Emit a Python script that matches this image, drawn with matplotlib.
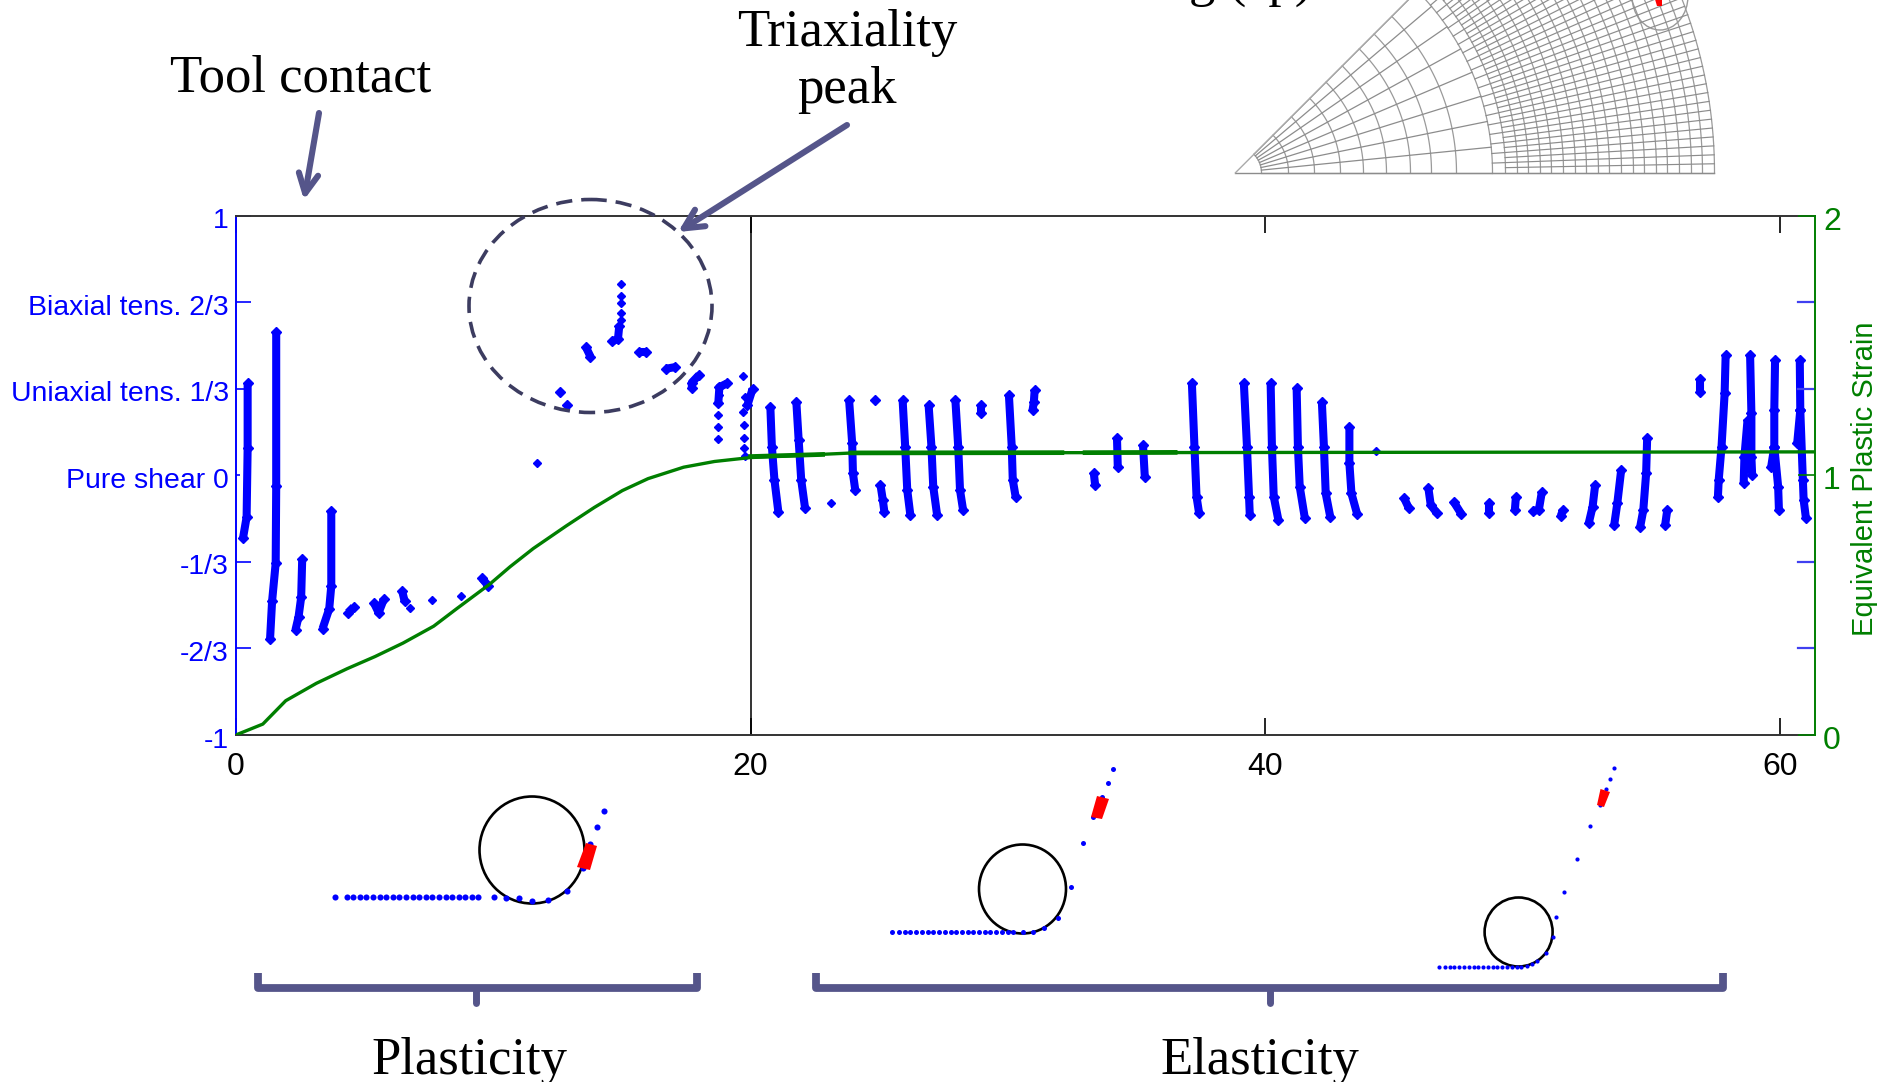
import numpy as np
import matplotlib
matplotlib.use('Agg')
import matplotlib.pyplot as plt
from matplotlib.patches import Ellipse, Polygon, FancyArrowPatch
from matplotlib.transforms import ScaledTranslation

W, H = 1877, 1082
SERIF = 'Liberation Serif'
SANS = 'Liberation Sans'
BLUE = '#0000ff'
GREEN = '#007f00'
SLATE = '#55558a'

# triaxiality streaks, one list per group of nodes: (time, triaxiality)
streaks = [
    [(0.46, 0.354), (0.46, 0.104), (0.42, -0.161), (0.28, -0.242)],
    [(1.57, 0.553), (1.57, -0.043), (1.55, -0.338), (1.41, -0.485), (1.33, -0.632)],
    [(2.58, -0.323), (2.54, -0.47), (2.44, -0.544), (2.32, -0.595)],
    [(3.71, -0.139), (3.71, -0.426), (3.63, -0.514), (3.37, -0.591)],
    [(4.58, -0.507), (4.36, -0.529)],
    [(5.37, -0.492), (5.55, -0.529), (5.75, -0.478)],
    [(6.46, -0.444), (6.56, -0.485)],
    [(9.57, -0.397), (9.81, -0.426)],
    [(12.59, 0.322)],
    [(12.88, 0.269)],
    [(13.6, 0.494), (13.78, 0.457)],
    [(14.9, 0.575), (14.85, 0.525), (14.63, 0.516)],
    [(15.66, 0.476), (15.92, 0.476)],
    [(16.71, 0.41), (17.05, 0.416)],
    [(18.0, 0.386), (17.72, 0.357), (17.72, 0.336)],
    [(19.09, 0.354), (18.79, 0.339), (18.75, 0.28)],
    [(20.08, 0.332), (19.88, 0.27)],
    [(20.77, 0.264), (20.83, 0.11), (20.93, -0.018), (21.08, -0.14)],
    [(21.78, 0.283), (21.87, 0.136), (21.97, -0.018), (22.12, -0.127)],
    [(23.83, 0.29), (23.95, 0.123), (23.98, 0.007), (24.07, -0.057)],
    [(24.85, 0.29)],
    [(25.05, -0.037), (25.14, -0.095), (25.2, -0.14)],
    [(25.91, 0.29), (26.01, 0.11), (26.09, -0.057), (26.21, -0.153)],
    [(26.92, 0.27), (27.03, 0.11), (27.1, -0.044), (27.25, -0.153)],
    [(27.96, 0.29), (28.07, 0.11), (28.14, -0.057), (28.26, -0.134)],
    [(28.96, 0.27), (28.96, 0.238)],
    [(30.04, 0.309), (30.15, 0.11), (30.19, -0.018), (30.3, -0.082)],
    [(31.04, 0.328), (31.01, 0.283), (30.96, 0.251)],
    [(33.34, 0.007), (33.39, -0.037)],
    [(34.24, 0.142), (34.27, 0.033)],
    [(35.25, 0.117), (35.32, -0.005)],
    [(37.15, 0.354), (37.25, 0.11), (37.33, -0.082), (37.43, -0.146)],
    [(39.17, 0.354), (39.29, 0.11), (39.37, -0.082), (39.4, -0.153)],
    [(40.21, 0.354), (40.26, 0.11), (40.33, -0.082), (40.51, -0.172)],
    [(41.22, 0.335), (41.27, 0.11), (41.34, -0.044), (41.54, -0.166)],
    [(42.2, 0.283), (42.28, 0.11), (42.35, -0.07), (42.53, -0.162)],
    [(43.27, 0.187), (43.27, 0.046), (43.35, -0.07), (43.57, -0.149)],
    [(45.4, -0.089), (45.58, -0.127)],
    [(46.34, -0.05), (46.43, -0.114), (46.66, -0.144)],
    [(47.32, -0.102), (47.62, -0.149)],
    [(48.7, -0.108), (48.7, -0.146)],
    [(49.74, -0.082), (49.7, -0.134)],
    [(50.75, -0.063), (50.63, -0.134), (50.41, -0.136)],
    [(51.57, -0.134), (51.48, -0.157)],
    [(52.82, -0.037), (52.72, -0.121), (52.57, -0.185)],
    [(53.83, 0.02), (53.68, -0.108), (53.56, -0.191)],
    [(54.84, 0.142), (54.8, 0.007), (54.69, -0.134), (54.57, -0.198)],
    [(55.62, -0.134), (55.54, -0.191)],
    [(56.88, 0.369), (56.88, 0.322)],
    [(57.89, 0.463), (57.85, 0.315), (57.73, 0.11), (57.62, -0.018), (57.59, -0.082)],
    [(58.84, 0.463), (58.89, 0.238), (58.89, 0.072), (58.92, 0.0)],
    [(58.74, 0.213), (58.62, 0.072), (58.59, -0.031)],
    [(59.81, 0.444), (59.78, 0.251), (59.78, 0.11), (59.93, -0.044), (59.96, -0.134)],
    [(59.78, 0.11), (59.66, 0.033)],
    [(60.77, 0.444), (60.79, 0.251), (60.89, -0.018), (60.92, -0.095), (61.01, -0.166)],
    [(60.79, 0.251), (60.67, 0.123)],
]
# nodes that read as separate diamonds
lone_x = [6.76, 7.61, 8.76, 11.69, 14.95, 14.95, 14.95, 14.95, 14.95, 18.73, 18.73, 18.73, 18.77,
          19.72, 19.74, 19.74, 19.74, 19.78, 19.72, 19.8, 23.13, 44.29]
lone_y = [-0.511, -0.48, -0.464, 0.048, 0.737, 0.69, 0.663, 0.626, 0.597, 0.233, 0.186, 0.139, 0.31,
          0.383, 0.192, 0.145, 0.105, 0.074, 0.245, 0.3, -0.108, 0.095]

strain_t = [0, 1.05, 1.94, 3.13, 4.32, 5.41, 6.5, 7.69, 8.58, 9.87, 10.66, 11.56, 12.84, 13.93, 15.02, 16.02,
            17.4, 18.6, 19.98, 24, 61.35]
strain_v = [0, 0.042, 0.132, 0.199, 0.255, 0.302, 0.354, 0.419, 0.486, 0.581, 0.648, 0.718, 0.805, 0.876, 0.941, 0.987,
            1.031, 1.053, 1.068, 1.086, 1.09]
# flat stretches where the plastic strain line looks heavier
heavy_t = [[20, 22.8], [23.9, 32.1], [33, 36.5]]
heavy_v = [[1.072, 1.08], [1.086, 1.087], [1.087, 1.088]]

left_ticks = [-1, -2/3, -1/3, 0, 1/3, 2/3, 1]
left_labels = ['-1', '-2/3', '-1/3', 'Pure shear 0', 'Uniaxial tens. 1/3', 'Biaxial tens. 2/3', '1']
x_ticks = [0, 20, 40, 60]
right_minor = [-2/3, -1/3, 1/3, 2/3]

# sketches under the plot, figure pixels
circles = [(532, 850, 105, 107), (1022.5, 889, 87, 89), (1518.6, 932, 68, 69)]
dots1_x = [335.4, 347, 353, 360, 366, 373, 380, 386, 393, 399, 406, 413, 419, 426, 432, 439, 446, 452, 459, 465, 472, 478,
           494, 506, 519, 532, 548, 567, 583, 590, 597, 604]
dots1_y = [896.7] * 22 + [897, 898, 898, 901, 900, 891, 868, 844, 827, 811]
dots2_x = [892, 899, 905, 910, 916, 922, 928, 933, 939, 945, 951, 956, 962, 968, 973, 979, 985, 990, 996, 1002, 1008, 1013,
           1023, 1033, 1044, 1058, 1071, 1083, 1093, 1102, 1108, 1113]
dots2_y = [931.7] * 23 + [932, 928, 918, 887, 843, 817, 797, 783, 769]
dots3_x = [1439, 1445, 1450, 1454, 1459, 1464, 1469, 1474, 1478, 1483, 1488, 1493, 1497, 1502, 1507, 1512, 1517, 1521,
           1527, 1532, 1537, 1546, 1553, 1556, 1564, 1577, 1590, 1600, 1606, 1610, 1614]
dots3_y = [966.7] * 18 + [966, 964, 961, 953, 937, 917, 892, 859, 826, 805, 789, 779, 768]
reds = [
    [(586, 843), (597, 846), (590, 870), (577, 867)],
    [(1097, 796), (1109, 799), (1102, 819), (1091, 817)],
    [(1600.5, 789), (1610, 792), (1604, 807), (1597, 805)],
    [(1654, -4), (1662, -4), (1662, 6), (1657, 6)],
]
brackets = [(258, 697, 476), (816.5, 1723.5, 1270.4)]

# mesh in the top corner, pixel radii from the apex
mesh_inner_r = [26, 53, 79, 105, 128, 151, 175, 196, 221, 257]
mesh_outer_r = [270, 282, 293, 305, 316, 328, 340, 351, 363, 374, 386, 398, 409, 421, 432, 444, 456, 467, 479]
mesh_inner_deg = [0, 5.7, 11.5, 17.3, 23, 28.8, 34.6, 40.3, 45]


fig = plt.figure(figsize=(W / 100, H / 100), dpi=100)
ax = fig.add_axes([235.8 / W, 1 - 735 / H, (1814.7 - 235.8) / W, (735 - 215.5) / H])
ax.set_xlim(0, 61.35)
ax.set_ylim(-1, 1)

for streak in streaks:
    xs, ys = zip(*streak)
    ax.plot(xs, ys, '-D', color=BLUE, lw=5.8, ms=5.2, solid_capstyle='butt', zorder=3)
ax.plot(lone_x, lone_y, 'D', color=BLUE, ms=4.4, zorder=3)
ax.axvline(20, color='#333333', lw=1.4, zorder=1)

ax.set_xticks(x_ticks)
ax.tick_params(axis='x', direction='in', length=12, width=1.2, top=True, pad=12, labelsize=23,
               color='black', labelcolor='black')
ax.set_yticks(left_ticks)
ax.set_yticklabels(left_labels)
ax.tick_params(axis='y', direction='in', length=11, width=1.2, pad=5, labelsize=20.4, color=BLUE, labelcolor=BLUE)
ax.yaxis.get_major_ticks()[3].tick1line.set_markersize(3)
shift = ScaledTranslation(0, -2.5 / 100, fig.dpi_scale_trans)
for lab in ax.get_xticklabels() + ax.get_yticklabels():
    lab.set_family(SANS)
for lab in ax.get_yticklabels():
    lab.set_transform(lab.get_transform() + shift)
ax.spines['left'].set_color(BLUE)
ax.spines['right'].set_visible(False)
ax.spines['top'].set_color('#333333')
ax.spines['bottom'].set_color('#333333')
for s in ax.spines.values():
    s.set_linewidth(1.4)

ax2 = ax.twinx()
ax2.set_xlim(0, 61.35)
ax2.set_ylim(0, 2)
ax2.plot(strain_t, strain_v, color=GREEN, lw=2.4, zorder=4)
for ts, vs in zip(heavy_t, heavy_v):
    ax2.plot(ts, vs, color=GREEN, lw=3.4, zorder=4)
ax2.set_yticks([0, 1, 2])
ax2.tick_params(axis='y', direction='in', length=12, width=1.2, color=GREEN, pad=6, labelsize=23, labelcolor=GREEN)
for lab in ax2.get_yticklabels():
    lab.set_family(SANS)
    lab.set_transform(lab.get_transform() + shift)
ax2.set_ylabel('Equivalent Plastic Strain', color=GREEN, fontsize=21, family=SANS, labelpad=7)
ax2.yaxis.label.set_y(0.493)
ax2.spines['right'].set_color(GREEN)
ax2.spines['right'].set_linewidth(1.4)
for side in ('left', 'top', 'bottom'):
    ax2.spines[side].set_visible(False)
for t in right_minor:
    ax2.plot([60.7, 61.35], [t + 1, t + 1], color='#4040f0', lw=1.6, zorder=2)

# overlay in figure pixels for the annotations
ov = fig.add_axes([0, 0, 1, 1], zorder=10)
ov.set_xlim(0, W)
ov.set_ylim(H, 0)
ov.axis('off')

ov.text(301, 78, 'Tool contact', family=SERIF, fontsize=38, ha='center', va='center')
ov.text(847, 33, 'Triaxiality', family=SERIF, fontsize=38, ha='center', va='center')
ov.text(847, 90, 'peak', family=SERIF, fontsize=38, ha='center', va='center')
ov.text(469, 1061, 'Plasticity', family=SERIF, fontsize=38, ha='center', va='center')
ov.text(1260, 1061, 'Elasticity', family=SERIF, fontsize=38, ha='center', va='center')
ov.text(1251, -3, 'g (εp)', family=SERIF, fontsize=38, ha='center', va='baseline')

for a, b in [((319, 113), (304, 200)), ((847, 125), (678, 232))]:
    ov.add_patch(FancyArrowPatch(a, b, arrowstyle='->,head_length=14,head_width=7', color=SLATE, lw=4.4,
                                 shrinkA=0, shrinkB=0, mutation_scale=1))
ov.add_patch(Ellipse((590.5, 306), 243, 213, fill=False, ec='#3c3c60', lw=2.6, ls=(0, (4.5, 2.5))))

for (cx, cy, w, h) in circles:
    ov.add_patch(Ellipse((cx, cy), w, h, fill=False, ec='black', lw=1.9))
ov.plot(dots1_x, dots1_y, 'o', color=BLUE, ms=4.4, mew=0)
ov.plot(dots2_x, dots2_y, 'o', color=BLUE, ms=3.6, mew=0)
ov.plot(dots3_x, dots3_y, 'o', color=BLUE, ms=3, mew=0)
for r in reds:
    ov.add_patch(Polygon(r, color='#ff0000', lw=0, zorder=5))

for x0, x1, xm in brackets:
    ov.plot([x0, x0, x1, x1], [973, 988, 988, 973], color=SLATE, lw=5.6, solid_joinstyle='round', solid_capstyle='butt')
    ov.plot([xm, xm], [988, 1003], color=SLATE, lw=5, solid_capstyle='round')

# mesh
apex_x, apex_y = 1235.5, 172.7
mesh_grey = '#8c8c8c'
for r in mesh_inner_r + mesh_outer_r:
    th = np.radians(np.linspace(0, 45, 90))
    ov.plot(apex_x + r * np.cos(th), apex_y - r * np.sin(th), color='#9a9a9a', lw=0.9)
for d in mesh_inner_deg:
    t = np.radians(d)
    ov.plot([apex_x + 26 * np.cos(t), apex_x + 257 * np.cos(t)], [apex_y - 26 * np.sin(t), apex_y - 257 * np.sin(t)],
            color=mesh_grey, lw=0.9)
# fine spokes, with the small zigzag where they meet the coarse part
for i, d in enumerate(np.arange(0, 45.01, 1.07)):
    t = np.radians(d)
    r0 = 257 if i % 2 == 0 else 270
    ov.plot([apex_x + r0 * np.cos(t), apex_x + 479 * np.cos(t)], [apex_y - r0 * np.sin(t), apex_y - 479 * np.sin(t)],
            color=mesh_grey, lw=0.85)
ov.plot([apex_x, apex_x + 479], [apex_y, apex_y], color=mesh_grey, lw=1)
ov.plot([apex_x, apex_x + 479 * np.cos(np.pi / 4)], [apex_y, apex_y - 479 * np.sin(np.pi / 4)], color='#aaaaaa', lw=1)
ov.add_patch(Ellipse((1660, -4), 56, 68, fill=False, ec='#999999', lw=1))

fig.savefig('out.png', dpi=100)
